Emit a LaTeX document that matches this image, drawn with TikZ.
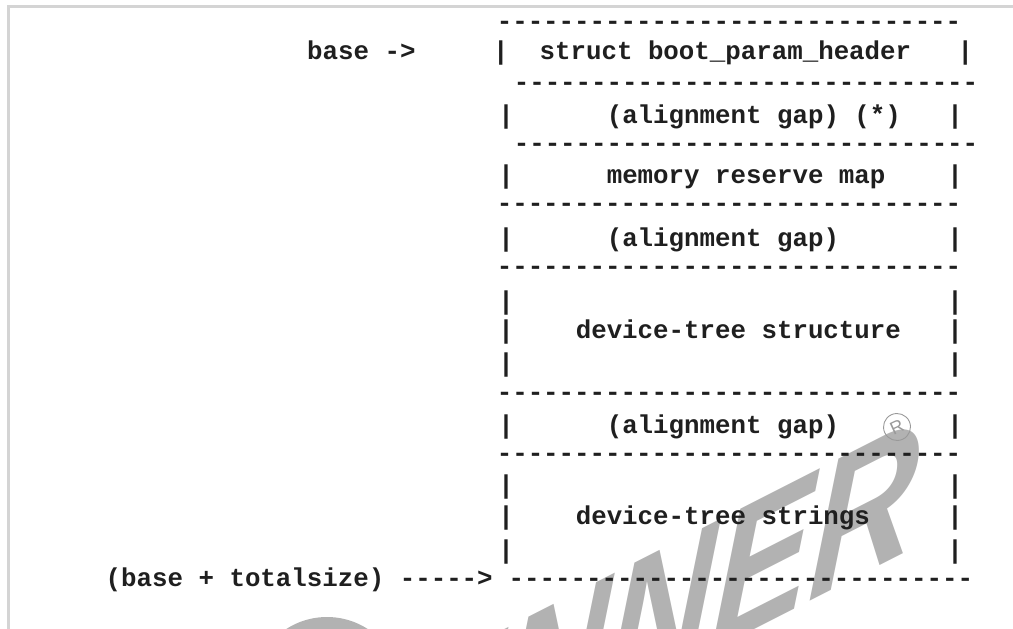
\documentclass[tikz,border=0pt]{standalone}
\usepackage{fontspec}
\setmonofont{Liberation Mono}
\setsansfont{Liberation Sans}
\newcommand\dashrow{------------------------------}
\newcommand\siderow{|~~~~~~~~~~~~~~~~~~~~~~~~~~~~|}
\begin{document}
\begin{tikzpicture}[x=1pt,y=-1pt,
  row/.style={anchor=base west, inner sep=0pt, text=black!88,
    font=\ttfamily\bfseries\fontsize{25.8}{30}\selectfont},
  frameline/.style={black!17, line width=3pt},
  wmark/.style={text=black!30, inner sep=0pt,
    font=\sffamily\bfseries\itshape\fontsize{165}{165}\selectfont}]
\useasboundingbox (0,0) rectangle (1013,629);
% watermark
\begin{scope}
\clip (0,0) rectangle (1013,629);
\fill[black!30] (327,692) circle (75);
\node[wmark, rotate=27, xslant=0.6, anchor=base east] (wm) at (914,548) {WINNER};
\node[circle, draw=black!40, line width=0.9pt, minimum size=27pt, inner sep=0pt,
  text=black!40, font=\sffamily\fontsize{18}{18}\selectfont, rotate=25] (reg) at (897,427) {R};
\end{scope}
% frame
\draw[frameline] (8,629) -- (8,6.5) -- (1013,6.5);
% rows
\node[row] (d1) at (496.6,29) {\dashrow};
\node[row] (base) at (307,59) {base ->};
\node[row] (hdr) at (493,59) {|~~struct boot\_param\_header~~~|};
\node[row] (d2) at (513.6,90) {\dashrow};
\node[row] (gap1) at (498.2,123) {|~~~~~~(alignment gap) (*)~~~|};
\node[row] (d3) at (513.6,151) {\dashrow};
\node[row] (rsv) at (498.2,183) {|~~~~~~memory reserve map~~~~|};
\node[row] (d4) at (496.6,211) {\dashrow};
\node[row] (gap2) at (498.2,246) {|~~~~~~(alignment gap)~~~~~~~|};
\node[row] (d5) at (496.6,274) {\dashrow};
\node[row] (sa) at (498.2,309) {\siderow};
\node[row] (sb) at (498.2,338) {|~~~~device-tree structure~~~|};
\node[row] (sc) at (498.2,371) {\siderow};
\node[row] (d6) at (496.6,400) {\dashrow};
\node[row] (gap3) at (498.2,433) {|~~~~~~(alignment gap)~~~~~~~|};
\node[row] (d7) at (496.6,461) {\dashrow};
\node[row] (ta) at (498.2,493) {\siderow};
\node[row] (tb) at (498.2,524) {|~~~~device-tree strings~~~~~|};
\node[row] (tc) at (498.2,558) {\siderow};
\node[row] (tot) at (105.5,586) {(base + totalsize) ----->};
\node[row] (d8) at (508.5,586) {\dashrow};
\end{tikzpicture}
\end{document}
